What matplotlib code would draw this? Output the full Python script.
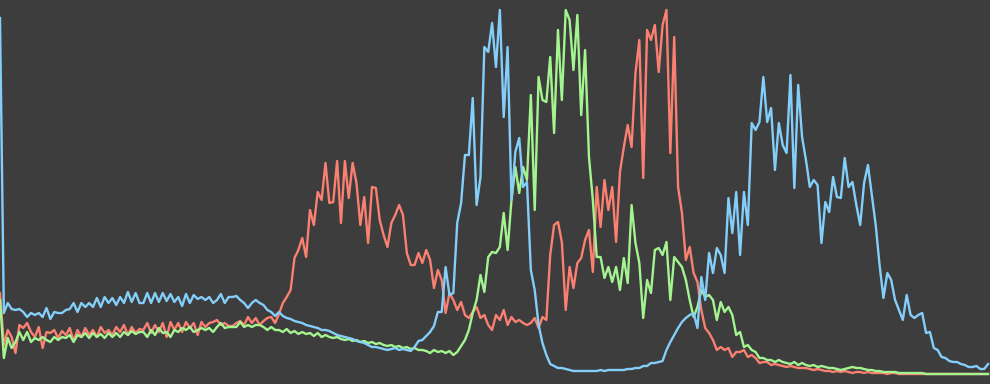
import numpy as np
import matplotlib
matplotlib.use("Agg")
import matplotlib.pyplot as plt

# 256-bin colour histogram, one list per channel (counts, arbitrary units)
red = [81,
       29, 44, 37, 21, 49, 46, 51, 42, 37, 47, 26, 42, 41, 44, 36, 43, 39, 46, 33, 44,
       37, 46, 39, 44, 37, 47, 41, 44, 39, 47, 42, 49, 39, 47, 41, 45,
       44, 51, 41, 49, 42, 51, 37, 52, 44, 51, 42, 52, 46, 51, 39, 52, 47, 51, 52, 54,
       49, 51, 48, 48, 51, 53, 49, 57, 51, 56, 49, 53, 56, 57, 51, 60,
       71, 77, 84, 116, 124, 136, 117, 164, 149, 182, 174, 211, 171, 172, 213, 151, 213, 176, 211, 191,
       149, 177, 131, 187, 186, 154, 139, 127, 151, 159, 169, 159, 121, 109, 109, 121,
       111, 124, 114, 86, 104, 94, 61, 81, 74, 64, 72, 59, 56, 62, 67, 56, 59, 49, 44, 59,
       54, 64, 49, 57, 52, 54, 51, 49, 51, 56, 46, 57, 54, 119, 149, 152,
       132, 64, 107, 86, 111, 116, 134, 144, 102, 187, 147, 194, 164, 187, 132, 202, 227, 249, 227, 301,
       334, 196, 344, 334, 349, 302, 349, 364, 221, 337, 187, 161, 114, 127, 101, 92,
       64, 46, 41, 34, 24, 27, 24, 26, 17, 22, 22, 24, 17, 19, 16, 11, 12, 12, 9, 10,
       9, 8, 7, 8, 7, 6, 6, 6, 5, 4, 5, 4, 3, 3, 2, 3,
       2, 3, 2, 1, 2, 2, 1, 2, 1, 1, 1, 1, 0, 1, 1, 0, 0, 0, 0, 0,
       0, 0, 0, 0, 0, 0, 0, 0, 0, 0, 0, 0, 0, 0, 0, 0, 0, 0, 0]

green = [74,
         16, 36, 26, 32, 42, 34, 42, 32, 36, 34, 37, 34, 32, 37, 34, 37, 36, 39, 32, 39,
         37, 41, 36, 41, 37, 40, 36, 41, 37, 41, 37, 42, 39, 43, 40, 42,
         42, 37, 44, 39, 46, 41, 42, 37, 44, 42, 46, 44, 47, 42, 44, 46, 44, 46, 42, 47,
         51, 46, 47, 47, 47, 52, 47, 49, 47, 49, 49, 47, 44, 47, 44, 44,
         42, 45, 41, 43, 40, 42, 40, 41, 38, 41, 37, 39, 37, 36, 37, 35, 34, 35, 33, 34,
         32, 33, 31, 32, 30, 31, 29, 28, 29, 27, 28, 26, 27, 25, 26, 24,
         24, 23, 21, 24, 22, 23, 21, 23, 19, 22, 28, 34, 44, 61, 74, 99, 82, 117, 122, 121,
         127, 161, 124, 174, 207, 181, 207, 194, 279, 164, 297, 274, 272, 317, 241, 344,
         274, 364, 354, 304, 359, 259, 324, 217, 174, 117, 117, 96, 107, 92, 107, 84, 116, 91, 169, 131,
         111, 56, 94, 81, 124, 126, 119, 132, 74, 117, 112, 107, 94, 74, 57, 67,
         84, 77, 79, 74, 54, 72, 62, 67, 59, 39, 42, 27, 29, 24, 22, 16, 16, 14, 14, 12,
         14, 12, 11, 10, 12, 9, 11, 9, 8, 9, 7, 8, 7, 6, 6, 5,
         4, 5, 6, 7, 6, 6, 5, 4, 4, 3, 3, 2, 2, 2, 2, 1, 1, 1, 1, 1,
         1, 1, 0, 0, 0, 0, 0, 0, 0, 0, 0, 0, 0, 0, 0, 0, 0, 0, 0]

blue = [356,
        61, 71, 65, 64, 65, 62, 57, 61, 59, 61, 57, 66, 55, 62, 61, 61, 64, 65, 71, 62,
        71, 67, 71, 67, 76, 67, 77, 71, 76, 69, 77, 71, 82, 72, 81, 71,
        71, 81, 71, 81, 72, 81, 73, 80, 72, 77, 68, 80, 71, 79, 75, 77, 74, 77, 71, 74,
        80, 71, 77, 77, 78, 74, 71, 66, 71, 74, 71, 69, 64, 62, 58, 62,
        58, 56, 55, 53, 52, 51, 49, 48, 47, 46, 44, 44, 43, 41, 39, 38, 37, 36, 35, 33,
        32, 31, 29, 27, 27, 26, 25, 24, 25, 26, 24, 25, 24, 23, 27, 33,
        34, 38, 42, 48, 62, 62, 107, 79, 81, 151, 171, 219, 219, 276, 169, 197, 327, 322, 351, 307,
        364, 257, 327, 174, 222, 236, 187, 192, 104, 84, 49, 31, 19, 10, 8, 6,
        6, 5, 4, 3, 3, 3, 3, 3, 3, 3, 4, 3, 4, 4, 4, 4, 4, 5, 5, 6,
        6, 8, 8, 11, 11, 12, 13, 24, 32, 39, 46, 52, 56, 59, 61, 46,
        97, 74, 121, 101, 126, 119, 101, 176, 141, 182, 119, 182, 149, 251, 244, 252, 297, 252, 266, 204,
        251, 229, 221, 299, 186, 289, 237, 214, 187, 194, 189, 131, 172, 162, 197, 177,
        176, 216, 187, 192, 169, 149, 191, 209, 179, 149, 109, 76, 101, 94, 74, 64, 54, 79, 59, 56,
        59, 61, 41, 42, 26, 24, 17, 16, 13, 12, 12, 10, 9, 7, 7, 8, 5, 5, 10]

bins = np.arange(len(blue))

fig = plt.figure(figsize=(9.9, 3.84), dpi=100)
fig.patch.set_facecolor('#3d3d3d')
ax = fig.add_axes([0, 0, 1, 1])
ax.set_facecolor('#3d3d3d')

ax.plot(bins, red, color='#fa8072', lw=1.7)
ax.plot(bins, green, color='#a4f590', lw=1.7)
ax.plot(bins, blue, color='#84cffa', lw=1.7)

ax.set_xlim(0, 255.5)
ax.set_ylim(-10, 374)
ax.axis('off')

fig.savefig('out.png', dpi=100, facecolor=fig.get_facecolor())
